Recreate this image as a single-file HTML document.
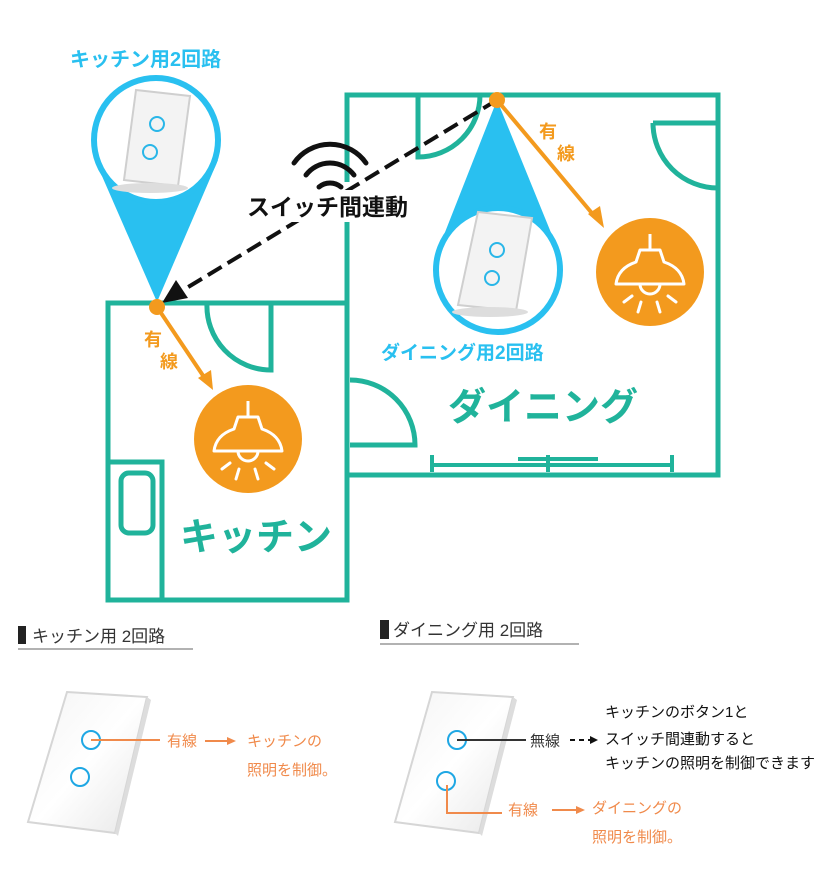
<!DOCTYPE html>
<html><head><meta charset="utf-8"><style>
html,body{margin:0;padding:0;background:#fff;}
svg{display:block;}
text{font-family:"Liberation Sans","Noto Sans CJK JP",sans-serif;}
</style></head><body>
<svg width="818" height="880" viewBox="0 0 818 880" xmlns="http://www.w3.org/2000/svg">
<defs>
<linearGradient id="sw" x1="0" y1="0" x2="1" y2="1">
<stop offset="0" stop-color="#f4f4f4"/><stop offset="0.5" stop-color="#ffffff"/><stop offset="1" stop-color="#e6e6e6"/>
</linearGradient>
<g id="lamp">
<path d="M0,-38 V-22 M-10,-22 H10 L14,-10 Q32,-4 34,12 H-34 Q-32,-4 -14,-10 Z" fill="none" stroke="#fff" stroke-width="3" stroke-linejoin="round"/>
<path d="M-10,12 A10,10 0 0 0 10,12" fill="none" stroke="#fff" stroke-width="3"/>
<path d="M-26,30 L-18,24 M-12,40 L-9,30 M10,40 L7,30 M26,30 L18,24" stroke="#fff" stroke-width="3" stroke-linecap="round"/>
</g>
</defs>
<g fill="none" stroke="#20b39b" stroke-width="5">
<!-- dining room -->
<path d="M347,182 V95 H718 V475 H347 V222"/>
<path d="M418,95 V157 A62,62 0 0 0 480,95"/>
<path d="M653,123 H718 M653,123 A65,65 0 0 0 718,188"/>
<path d="M350,445 H415 A65,65 0 0 0 350,380"/>
<path d="M432,465 H672 M432,455 V472 M672,455 V472" stroke-width="4"/>
<path d="M518,459 H598 M548,455 V472" stroke-width="4"/>
<!-- kitchen -->
<rect x="108" y="303" width="239" height="297"/>
<path d="M271,303 V370 A64,64 0 0 1 207,303"/>
<path d="M108,462 H162 V600"/>
<rect x="121" y="473" width="32" height="60" rx="8"/>
</g>
<!-- blue cones -->
<path d="M95,160 L157,302 L218,160 Z" fill="#29c0f0"/>
<circle cx="156" cy="140" r="62" fill="#fff" stroke="#29c0f0" stroke-width="6"/>
<path d="M440,245 L497,100 L556,245 Z" fill="#29c0f0"/>
<circle cx="498" cy="270" r="62" fill="#fff" stroke="#29c0f0" stroke-width="6"/>
<!-- switches in circles -->
<g>
<polygon points="124,180 178,186 190,96 136,90" fill="#f3f3f3" stroke="#cfcfcf" stroke-width="2"/>
<circle cx="157" cy="124" r="7" fill="none" stroke="#29b6e8" stroke-width="2"/>
<circle cx="150" cy="152" r="7" fill="none" stroke="#29b6e8" stroke-width="2"/>
<ellipse cx="150" cy="188" rx="38" ry="5" fill="#ddd"/>
</g>
<g>
<polygon points="458,305 516,311 532,218 478,212" fill="#f3f3f3" stroke="#cfcfcf" stroke-width="2"/>
<circle cx="497" cy="250" r="7" fill="none" stroke="#29b6e8" stroke-width="2"/>
<circle cx="492" cy="278" r="7" fill="none" stroke="#29b6e8" stroke-width="2"/>
<ellipse cx="490" cy="312" rx="38" ry="5" fill="#ddd"/>
</g>
<!-- dashed link -->
<line x1="497" y1="100" x2="180" y2="292" stroke="#111" stroke-width="4" stroke-dasharray="16,7"/>
<polygon points="162,303 176,280 188,298" fill="#111"/>
<!-- wifi -->
<g fill="none" stroke="#111" stroke-width="5" stroke-linecap="round">
<path d="M319,187 A17,17 0 0 1 341,187"/>
<path d="M306,175 A30,30 0 0 1 354,175"/>
<path d="M294,163 A44,44 0 0 1 366,163"/>
</g>
<rect x="245" y="190" width="168" height="32" fill="#fff"/>
<text x="247" y="215" font-size="23" font-weight="bold" fill="#111">スイッチ間連動</text>
<!-- orange -->
<g stroke="#f39a1e" stroke-width="4">
<line x1="497" y1="100" x2="596" y2="218"/>
<line x1="157" y1="307" x2="206" y2="380"/>
</g>
<polygon points="604,228 588,214 600,206" fill="#f39a1e" transform="rotate(0)"/>
<polygon points="213,390 198,378 211,370" fill="#f39a1e"/>
<circle cx="497" cy="100" r="8" fill="#f39a1e"/>
<circle cx="157" cy="307" r="8" fill="#f39a1e"/>
<circle cx="650" cy="272" r="54" fill="#f39a1e"/>
<use href="#lamp" x="650" y="272"/>
<circle cx="248" cy="439" r="54" fill="#f39a1e"/>
<use href="#lamp" x="248" y="439"/>
<g font-size="18" font-weight="bold" fill="#f39a1e">
<text x="539" y="138">有</text><text x="557" y="160">線</text>
<text x="144" y="346">有</text><text x="160" y="368">線</text>
</g>
<!-- labels -->
<text x="70" y="66" font-size="20" font-weight="bold" fill="#29c0f0">キッチン用2回路</text>
<text x="381" y="359" font-size="19" font-weight="bold" fill="#29c0f0">ダイニング用2回路</text>
<text x="448" y="420" font-size="38" font-weight="bold" fill="#20b39b">ダイニング</text>
<text x="180" y="550" font-size="38" font-weight="bold" fill="#20b39b">キッチン</text>
<!-- bottom headings -->
<rect x="18" y="626" width="8" height="18" fill="#222"/>
<text x="32" y="642" font-size="17" fill="#333">キッチン用 2回路</text>
<line x1="18" y1="649" x2="193" y2="649" stroke="#999" stroke-width="1.5"/>
<rect x="380" y="620" width="9" height="19" fill="#222"/>
<text x="393" y="636" font-size="17" fill="#333">ダイニング用 2回路</text>
<line x1="380" y1="644" x2="579" y2="644" stroke="#999" stroke-width="1.5"/>
<!-- bottom left switch -->
<polygon points="67,692 147,697 115,833 28,822" fill="url(#sw)" stroke="#d6d6d6" stroke-width="2"/>
<polygon points="147,697 151,700 118,836 115,833" fill="#ddd"/>
<circle cx="91" cy="740" r="9" fill="none" stroke="#1ea7e4" stroke-width="2"/>
<circle cx="80" cy="777" r="9" fill="none" stroke="#1ea7e4" stroke-width="2"/>
<line x1="91" y1="740" x2="160" y2="740" stroke="#f08a4b" stroke-width="2"/>
<g font-size="15" fill="#f08a4b">
<text x="167" y="746">有線</text>
<text x="247" y="746">キッチンの</text>
<text x="247" y="775">照明を制御。</text>
<text x="592" y="813">ダイニングの</text>
<text x="592" y="842">照明を制御。</text>
<text x="508" y="815">有線</text>
</g>
<line x1="205" y1="741" x2="229" y2="741" stroke="#f08a4b" stroke-width="2"/>
<polygon points="236,741 227,737 227,745" fill="#f08a4b"/>
<!-- bottom right switch -->
<polygon points="432,692 513,697 479,833 395,822" fill="url(#sw)" stroke="#d6d6d6" stroke-width="2"/>
<polygon points="513,697 517,700 482,836 479,833" fill="#ddd"/>
<circle cx="457" cy="740" r="9" fill="none" stroke="#1ea7e4" stroke-width="2"/>
<circle cx="446" cy="781" r="9" fill="none" stroke="#1ea7e4" stroke-width="2"/>
<line x1="457" y1="740" x2="526" y2="740" stroke="#333" stroke-width="2"/>
<text x="530" y="746" font-size="15" fill="#333">無線</text>
<line x1="570" y1="740" x2="592" y2="740" stroke="#111" stroke-width="2" stroke-dasharray="5,4"/>
<polygon points="598,740 590,736 590,744" fill="#111"/>
<path d="M447,785 V813 H502" fill="none" stroke="#f08a4b" stroke-width="2"/>
<line x1="552" y1="810" x2="578" y2="810" stroke="#f08a4b" stroke-width="2"/>
<polygon points="585,810 576,806 576,814" fill="#f08a4b"/>
<g font-size="15" fill="#111">
<text x="605" y="717">キッチンのボタン1と</text>
<text x="605" y="744">スイッチ間連動すると</text>
<text x="605" y="768">キッチンの照明を制御できます</text>
</g>
</svg>
</body></html>
